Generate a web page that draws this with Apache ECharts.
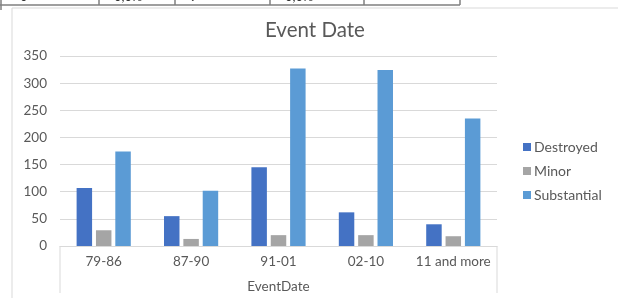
<!DOCTYPE html>
<html>
<head>
<meta charset="utf-8">
<script src="https://cdn.jsdelivr.net/npm/echarts@6/dist/echarts.min.js"></script>
<style>
html,body{margin:0;padding:0;background:#fff;}
#c{width:618px;height:298px;}
</style>
</head>
<body>
<div id="c"></div>
<script>
var categories = ['79-86', '87-90', '91-01', '02-10', '11 and more'];
var destroyed = [107, 55, 145, 62, 40];
var minor = [29, 13, 20, 20, 18];
var substantial = [174, 102, 327, 324, 235];
var yTicks = [0, 50, 100, 150, 200, 250, 300, 350];

var FONT = 'Lato, "Open Sans", sans-serif';
var G = {left: 60, right: 121, top: 56, bottom: 52};
var W = 618, H = 298;
var gx0 = G.left, gx1 = W - G.right, gy1 = H - G.bottom;

var chart = echarts.init(document.getElementById('c'), null, {renderer: 'canvas'});
var lineStyle = {stroke: '#d9d9d9', lineWidth: 1};
var sheetLine = {stroke: '#7f7f7f', lineWidth: 1.5};
chart.setOption({
  backgroundColor: '#ffffff',
  animation: false,
  title: {
    text: 'Event Date',
    left: 265, top: 20, padding: 0,
    textStyle: {fontFamily: FONT, fontSize: 20.5, fontWeight: 'normal', color: '#595959'}
  },
  legend: {
    orient: 'vertical',
    left: 523, top: 140, padding: 0,
    itemWidth: 8, itemHeight: 8, itemGap: 10,
    icon: 'rect',
    textStyle: {fontFamily: FONT, fontSize: 14, color: '#595959', padding: [0, 0, 0, -2]},
    data: ['Destroyed', 'Minor', 'Substantial']
  },
  grid: {left: G.left, right: G.right, top: G.top, bottom: G.bottom, containLabel: false, outerBoundsMode: 'none'},
  xAxis: {
    type: 'category',
    data: categories,
    name: 'EventDate',
    nameLocation: 'middle',
    nameGap: 34,
    nameTextStyle: {fontFamily: FONT, fontSize: 13.5, color: '#595959'},
    axisLine: {show: true, lineStyle: {color: '#d9d9d9', width: 1}},
    axisTick: {show: false},
    axisLabel: {fontFamily: FONT, fontSize: 13.5, color: '#595959', margin: 9, interval: 0}
  },
  yAxis: {
    type: 'value',
    min: 0, max: 350, interval: 50,
    axisLine: {show: false},
    axisTick: {show: false},
    axisLabel: {fontFamily: FONT, fontSize: 13.5, color: '#595959', margin: 13,
      formatter: function (v) { return yTicks.indexOf(v) >= 0 ? String(v) : ''; }},
    splitLine: {lineStyle: {color: '#d9d9d9', width: 1}}
  },
  series: [
    {name: 'Destroyed', type: 'bar', data: destroyed, itemStyle: {color: '#4472C4'}, barGap: '25%', barCategoryGap: '38%'},
    {name: 'Minor', type: 'bar', data: minor, itemStyle: {color: '#A5A5A5'}},
    {name: 'Substantial', type: 'bar', data: substantial, itemStyle: {color: '#5B9BD5'}}
  ],
  graphic: [
    {type: 'line', shape: {x1: 12, y1: 8, x2: W, y2: 8}, style: lineStyle, silent: true},
    {type: 'line', shape: {x1: 12, y1: 8, x2: 12, y2: H}, style: lineStyle, silent: true},
    {type: 'line', shape: {x1: gx0, y1: gy1, x2: gx0, y2: 293}, style: lineStyle, silent: true},
    {type: 'line', shape: {x1: gx1, y1: gy1, x2: gx1, y2: 293}, style: lineStyle, silent: true},
    {type: 'line', shape: {x1: 0, y1: 5, x2: 460, y2: 5}, style: sheetLine, silent: true},
    {type: 'line', shape: {x1: 1, y1: 0, x2: 1, y2: 10}, style: sheetLine, silent: true},
    {type: 'line', shape: {x1: 99, y1: 0, x2: 99, y2: 5}, style: sheetLine, silent: true},
    {type: 'line', shape: {x1: 175, y1: 0, x2: 175, y2: 5}, style: sheetLine, silent: true},
    {type: 'line', shape: {x1: 270, y1: 0, x2: 270, y2: 5}, style: sheetLine, silent: true},
    {type: 'line', shape: {x1: 364, y1: 0, x2: 364, y2: 5}, style: sheetLine, silent: true},
    {type: 'line', shape: {x1: 460, y1: 0, x2: 460, y2: 5}, style: sheetLine, silent: true},
    {type: 'text', left: 20, top: -10, silent: true, style: {text: '0', fontFamily: FONT, fontSize: 13, fill: '#333'}},
    {type: 'text', left: 114, top: -10, silent: true, style: {text: '0,0%', fontFamily: FONT, fontSize: 13, fill: '#333'}},
    {type: 'text', left: 190, top: -10, silent: true, style: {text: '9', fontFamily: FONT, fontSize: 13, fill: '#333'}},
    {type: 'text', left: 285, top: -10, silent: true, style: {text: '0,0%', fontFamily: FONT, fontSize: 13, fill: '#333'}}
  ]
});
</script>
</body>
</html>
